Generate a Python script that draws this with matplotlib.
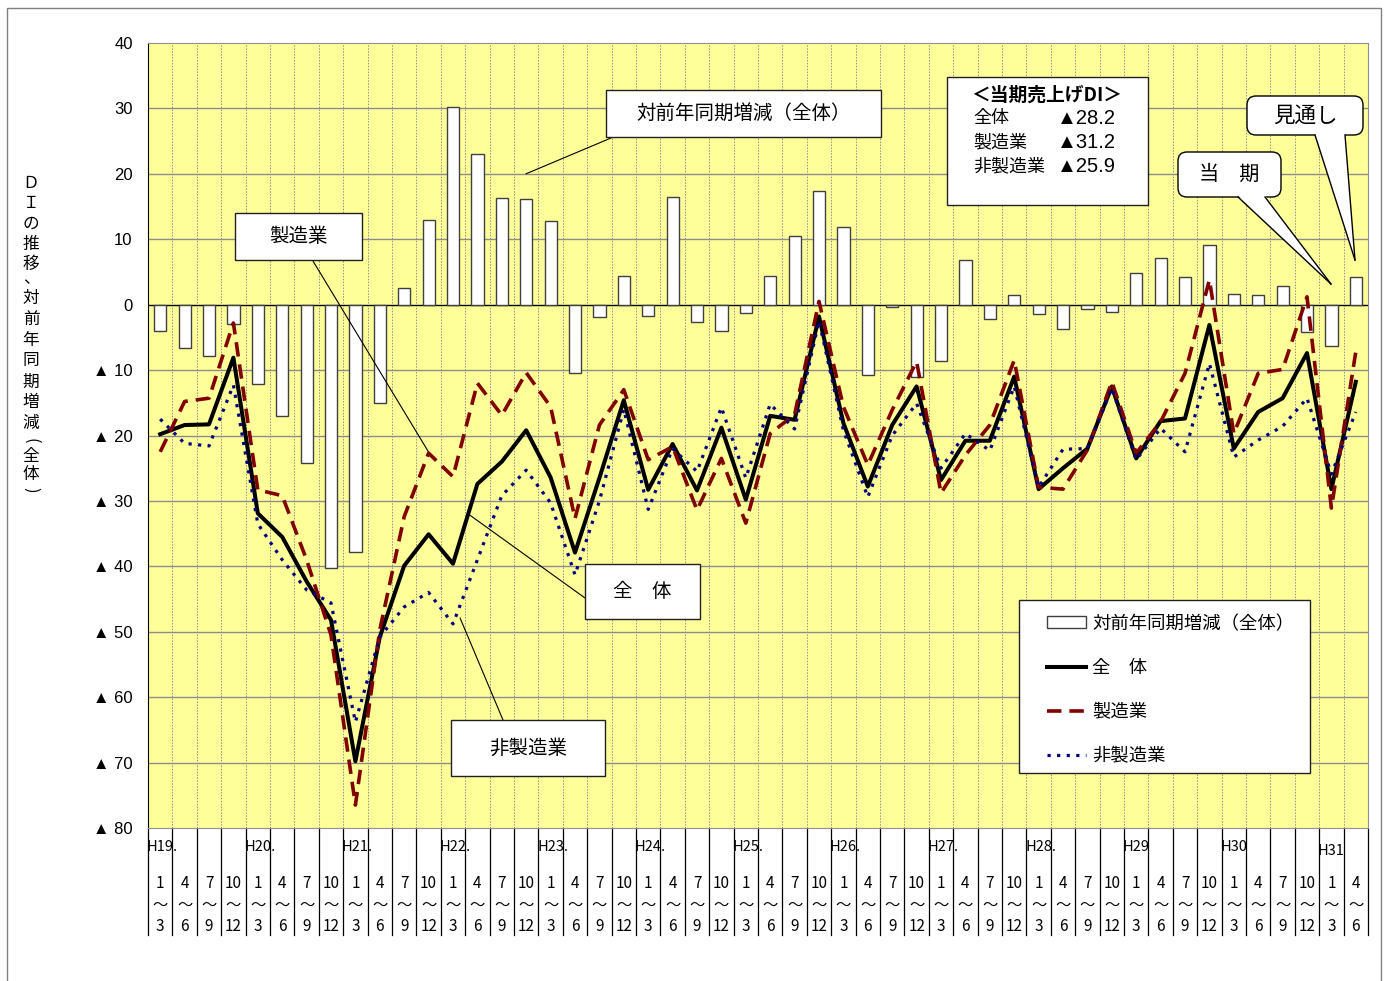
import matplotlib
matplotlib.use('Agg')
import numpy as np
import matplotlib.pyplot as plt
from matplotlib.patches import Rectangle, FancyBboxPatch, Polygon, Patch
from matplotlib.lines import Line2D
from matplotlib.transforms import IdentityTransform

plt.rcParams['font.family'] = ['Noto Sans CJK JP', 'DejaVu Sans']
NUM_FONT = ['Liberation Sans', 'Noto Sans CJK JP']

# --- data (H19 1~3 .. H31 4~6, quarterly) ---
years = ['H19.', 'H20.', 'H21.', 'H22.', 'H23.', 'H24.', 'H25.', 'H26.',
         'H27.', 'H28.', 'H29', 'H30', 'H31']
q_start = ['1', '4', '7', '10']
q_end = ['3', '6', '9', '12']

# 対前年同期増減（全体）
yoy = [-4.1, -6.6, -7.8, -2.9, -12.2, -17.0, -24.2, -40.2, -37.8, -15.1,
       2.5, 12.9, 30.2, 23.1, 16.3, 16.1, 12.8, -10.5, -1.9, 4.4,
       -1.7, 16.4, -2.7, -4.1, -1.3, 4.4, 10.5, 17.3, 11.8, -10.7,
       -0.4, -11.0, -8.6, 6.9, -2.2, 1.5, -1.5, -3.7, -0.7, -1.1,
       4.8, 7.1, 4.3, 9.1, 1.6, 1.5, 2.9, -4.2, -6.3, 4.3]
# 全体
zentai = [-19.8, -18.4, -18.3, -8.1, -31.9, -35.5, -42.3, -48.2, -69.8, -50.8,
          -39.9, -35.1, -39.6, -27.4, -24.0, -19.2, -26.4, -37.9, -26.5, -14.6,
          -28.3, -21.3, -28.4, -18.8, -29.8, -17.0, -17.6, -1.8, -18.1, -27.8,
          -18.4, -12.5, -26.8, -20.8, -20.8, -11.0, -28.2, -25.0, -22.0, -12.5,
          -23.5, -17.8, -17.4, -3.1, -22.0, -16.4, -14.3, -7.4, -28.2, -11.8]
# 製造業
seizo = [-22.5, -14.8, -14.3, -2.8, -28.3, -29.2, -39.0, -50.5, -76.5, -49.7,
         -32.4, -22.7, -26.3, -12.0, -16.9, -10.4, -15.6, -32.7, -18.4, -13.0,
         -23.7, -21.7, -31.4, -23.5, -33.4, -19.7, -16.8, 0.5, -15.6, -24.5,
         -16.1, -8.7, -28.8, -23.0, -18.4, -8.5, -27.9, -28.2, -22.2, -11.8,
         -22.7, -17.9, -10.5, 3.8, -19.7, -10.5, -9.9, 1.2, -31.1, -7.2]
# 非製造業
hiseizo = [-17.5, -21.2, -21.6, -12.3, -33.5, -39.0, -43.6, -45.6, -63.8, -50.8,
           -46.2, -44.0, -48.8, -39.0, -29.2, -25.3, -30.3, -41.3, -30.0, -16.0,
           -31.3, -22.0, -25.5, -15.7, -26.5, -15.2, -19.0, -2.5, -19.2, -29.4,
           -20.0, -15.1, -25.0, -19.7, -22.3, -12.5, -27.9, -22.1, -22.0, -12.8,
           -23.7, -18.9, -22.5, -9.0, -23.3, -20.7, -18.6, -14.3, -25.9, -16.4]

info_rows = [('全体', '▲28.2'), ('製造業', '▲31.2'), ('非製造業', '▲25.9')]

FW, FH = 1387, 981
PX = IdentityTransform()

fig = plt.figure(figsize=(FW / 100, FH / 100), dpi=100)
ax = fig.add_axes([148 / FW, 1 - 828 / FH, (1368 - 148) / FW, (828 - 43) / FH])

n = len(zentai)
x = np.arange(n)
ax.set_xlim(-0.5, n - 0.5)
ax.set_ylim(-80, 40)
ax.set_facecolor('#FFFF99')

# grid
for k in range(1, n):
    ax.axvline(k - 0.5, color='#909090', lw=0.7, ls=(0, (1.5, 1.5)), zorder=0.5)
for v in range(-70, 40, 10):
    if v != 0:
        ax.axhline(v, color='#8c8c8c', lw=1.0, zorder=0.6)
ax.axhline(0, color='black', lw=1.0, zorder=1.5)

ax.bar(x, yoy, width=0.5, color='white', edgecolor='#404040', linewidth=1, zorder=2)
ax.plot(x, zentai, color='black', lw=2.9, zorder=4)
ax.plot(x, seizo, color='#800000', lw=2.6, dashes=(4, 2.2), zorder=4.2)
ax.plot(x, hiseizo, color='#000080', lw=2.3, dashes=(1, 2), zorder=4.4)

# y axis
yt = list(range(-80, 41, 10))
ax.set_yticks(yt)
ax.set_yticklabels([str(v) if v >= 0 else '▲ ' + str(-v) for v in yt],
                   fontsize=12, family=NUM_FONT)
ax.tick_params(axis='y', length=0, pad=11)
ax.set_xticks([])
for s in ['top', 'right', 'bottom']:
    ax.spines[s].set_color('#909090')
ax.spines['left'].set_color('black')

# x axis category labels
tr = ax.get_xaxis_transform()
for k in range(n + 1):
    ax.plot([k - 0.5, k - 0.5], [0, -0.1363], transform=tr, color='black',
            lw=0.9, clip_on=False)
for j, yl in enumerate(years):
    yy = -0.029 if yl == 'H31' else -0.0242
    ax.text(4 * j - 0.55, yy, yl, transform=tr, ha='left', va='center', fontsize=10.5)
for i in range(n):
    ax.text(i, -0.0701, q_start[i % 4], transform=tr, ha='center', va='center', fontsize=11)
    ax.text(i, -0.0981, '～', transform=tr, ha='center', va='center', fontsize=11)
    ax.text(i, -0.1261, q_end[i % 4], transform=tr, ha='center', va='center', fontsize=11)

# vertical y-axis title
ychars = ['Ｄ', 'Ｉ', 'の', '推', '移', '、', '対', '前', '年', '同', '期',
          '増', '減', '(', '全', '体', ')']
ypos = [184, 204, 224, 244, 264, 279, 298, 319, 340, 361, 382, 403, 423, 441, 457, 475, 490]
for ch, yp in zip(ychars, ypos):
    rot = -90 if ch in '()' else 0
    fig.text(31, FH - yp, ch, transform=PX, ha='center', va='center',
             fontsize=12, rotation=rot, rotation_mode='anchor')

# outer frame
fig.add_artist(Rectangle((7, -10), 1374, FH - 8 + 10, transform=PX, fill=False,
                         ec='#808080', lw=1))


def label_box(x0, y0, x1, y1, text, size):
    fig.add_artist(Rectangle((x0, FH - y1), x1 - x0, y1 - y0, transform=PX,
                             fc='white', ec='#202020', lw=1.0, zorder=5))
    fig.text((x0 + x1) / 2, FH - (y0 + y1) / 2, text, transform=PX, ha='center',
             va='center', fontsize=size, zorder=6)


def leader(sx, sy, xd, yd):
    ax.annotate('', xy=(xd, yd), xycoords='data', xytext=(sx, FH - sy),
                textcoords='figure pixels', annotation_clip=False,
                arrowprops=dict(arrowstyle='-', color='black', lw=0.8,
                                shrinkA=0, shrinkB=0))


label_box(235, 213, 362, 260, '製造業', 14)
leader(313, 261, 11.14, -23.4)
label_box(606, 90, 881, 137, '対前年同期増減（全体）', 14)
leader(611, 138, 14.99, 20.0)
label_box(585, 564, 700, 619, '全　体', 14)
leader(585, 598, 12.7, -32.2)
label_box(451, 720, 605, 776, '非製造業', 14)
leader(503, 720, 12.29, -47.9)


def callout(x0, y0, x1, y1, text, size, b0, b1, tip):
    fig.add_artist(FancyBboxPatch((x0, FH - y1), x1 - x0, y1 - y0,
                                  boxstyle='round,pad=0,rounding_size=9', transform=PX,
                                  fc='white', ec='black', lw=1.0, zorder=5))
    yb = FH - y1 + 1.5
    fig.add_artist(Polygon([(b0, yb), (tip[0], FH - tip[1]), (b1, yb)], closed=True,
                           transform=PX, fc='white', ec='none', zorder=6))
    for bx in (b0, b1):
        fig.add_artist(Line2D([bx, tip[0]], [FH - y1, FH - tip[1]], transform=PX,
                              color='black', lw=1.0, zorder=7))
    fig.text((x0 + x1) / 2, FH - (y0 + y1) / 2, text, transform=PX, ha='center',
             va='center', fontsize=size, zorder=8)


callout(1247, 96, 1363, 135, '見通し', 15.5, 1315, 1345, (1355, 260))
callout(1178, 152, 1281, 197, '当　期', 14.5, 1238, 1265, (1331, 284))

# info box
fig.add_artist(Rectangle((947, FH - 205), 201, 128, transform=PX, fc='white',
                         ec='#202020', lw=1.0, zorder=5))
fig.text(1047, FH - 95, '＜当期売上げDI＞', transform=PX, ha='center', va='center',
         fontsize=13.5, weight='bold', zorder=6)
for r, (lab, val) in enumerate(info_rows):
    yy = FH - (118 + 24.3 * r)
    fig.text(973, yy, lab, transform=PX, ha='left', va='center', fontsize=13, zorder=6)
    fig.text(1057, yy, val, transform=PX, ha='left', va='center', fontsize=14.5,
             family=NUM_FONT, zorder=6)

# legend: frame drawn separately so the entries can sit inset like the original
ax.add_patch(Rectangle((1019, FH - 773), 291, 173, transform=PX, fc='white',
                       ec='#202020', lw=1.0, zorder=5.5, clip_on=False))
handles = [Patch(fc='white', ec='#404040', lw=1),
           Line2D([], [], color='black', lw=2.9),
           Line2D([], [], color='#800000', lw=2.6, dashes=(4, 2.2)),
           Line2D([], [], color='#000080', lw=2.3, dashes=(1, 2))]
labels = ['対前年同期増減（全体）', '全　体', '製造業', '非製造業']
leg = ax.legend(handles, labels, loc='upper left',
                bbox_to_anchor=(1033, FH - 601), bbox_transform=PX,
                fontsize=13.2, handlelength=2.15, handleheight=0.6,
                labelspacing=1.42, borderpad=0.75, handletextpad=0.33, borderaxespad=0,
                frameon=False)
leg.set_zorder(6)

fig.savefig('out.png', dpi=100, facecolor='white')
